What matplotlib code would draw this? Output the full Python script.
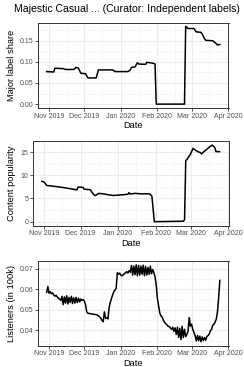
import matplotlib
matplotlib.use("Agg")
import matplotlib.pyplot as plt
import matplotlib.dates as mdates
from matplotlib.ticker import MultipleLocator
import pandas as pd

plt.rcParams['font.family'] = ['Liberation Sans', 'DejaVu Sans']

titulo = 'Majestic Casual ... (Curator: Independent labels)'

# panel 1: major label share
fechas_share = ['2019-10-30', '2019-11-05', '2019-11-06', '2019-11-13', '2019-11-15',
                '2019-11-22', '2019-11-24', '2019-11-26', '2019-11-28', '2019-12-02',
                '2019-12-04', '2019-12-11', '2019-12-13', '2019-12-25', '2019-12-27',
                '2020-01-07', '2020-01-09', '2020-01-10', '2020-01-13', '2020-01-15',
                '2020-01-16', '2020-01-22', '2020-01-23', '2020-01-28', '2020-01-30',
                '2020-01-31', '2020-02-24', '2020-02-25', '2020-02-27', '2020-03-03',
                '2020-03-05', '2020-03-09', '2020-03-10', '2020-03-12', '2020-03-13',
                '2020-03-19', '2020-03-22', '2020-03-23', '2020-03-25']
share = [0.077, 0.076, 0.085, 0.084, 0.082,
         0.082, 0.087, 0.085, 0.073, 0.072,
         0.062, 0.062, 0.081, 0.081, 0.077,
         0.077, 0.081, 0.087, 0.088, 0.098,
         0.095, 0.094, 0.099, 0.097, 0.095,
         0.0, 0.0, 0.184, 0.179, 0.179,
         0.171, 0.170, 0.166, 0.155, 0.151,
         0.150, 0.143, 0.140, 0.141]

# panel 2: content popularity
fechas_pop = ['2019-10-30', '2019-11-01', '2019-11-03', '2019-11-10', '2019-11-18',
              '2019-11-25', '2019-11-28', '2019-11-29', '2019-12-03', '2019-12-04',
              '2019-12-09', '2019-12-11', '2019-12-13', '2019-12-16', '2019-12-20',
              '2019-12-24', '2019-12-28', '2020-01-05', '2020-01-09', '2020-01-10',
              '2020-01-11', '2020-01-15', '2020-01-20', '2020-01-27', '2020-01-29',
              '2020-01-31', '2020-02-24', '2020-02-25', '2020-02-26', '2020-02-27',
              '2020-03-01', '2020-03-03', '2020-03-05', '2020-03-07', '2020-03-09',
              '2020-03-10', '2020-03-12', '2020-03-14', '2020-03-17', '2020-03-19',
              '2020-03-21', '2020-03-22', '2020-03-25']
popularidad = [8.7, 8.5, 7.8, 7.6, 7.3,
               7.0, 6.85, 7.45, 7.4, 7.0,
               6.9, 6.1, 5.6, 6.1, 6.0,
               5.8, 5.65, 5.8, 5.9, 6.25,
               5.95, 6.1, 6.0, 6.0, 5.5,
               0.0, 0.1, 0.4, 13.2, 13.4,
               14.6, 15.8, 15.4, 15.1, 14.9,
               14.6, 15.1, 15.5, 16.2, 16.5,
               16.0, 15.1, 15.1]

# panel 3: listeners (daily, Oct 30 - Mar 25)
inicio_oyentes = '2019-10-30'
oyentes = [0.0584, 0.0613, 0.0580, 0.0588, 0.0578, 0.0582, 0.0572, 0.0566, 0.0570, 0.0562,
           0.0556, 0.0552, 0.0545, 0.0565, 0.0525, 0.0562, 0.0532, 0.0568, 0.0528, 0.0560,
           0.0535, 0.0565, 0.0530, 0.0558, 0.0532, 0.0560, 0.0535, 0.0556, 0.0538, 0.0552,
           0.0545, 0.0550, 0.0542, 0.0525, 0.0490, 0.0483, 0.0482, 0.0481, 0.0480, 0.0479,
           0.0478, 0.0477, 0.0476, 0.0474, 0.0470, 0.0465, 0.0458, 0.0448, 0.0442, 0.0490,
           0.0458, 0.0462, 0.0455, 0.0510, 0.0535, 0.0555, 0.0572, 0.0588, 0.0595, 0.0605,
           0.0680, 0.0672, 0.0678, 0.0668, 0.0665, 0.0670, 0.0675, 0.0680, 0.0685, 0.0678,
           0.0690, 0.0682, 0.0715, 0.0668, 0.0712, 0.0670, 0.0718, 0.0665, 0.0715, 0.0668,
           0.0712, 0.0672, 0.0716, 0.0665, 0.0710, 0.0668, 0.0705, 0.0672, 0.0712, 0.0675,
           0.0695, 0.0680, 0.0660, 0.0620, 0.0555, 0.0520, 0.0485, 0.0470, 0.0465, 0.0450,
           0.0440, 0.0432, 0.0428, 0.0420, 0.0418, 0.0412, 0.0405, 0.0415, 0.0395, 0.0412,
           0.0380, 0.0415, 0.0365, 0.0410, 0.0355, 0.0420, 0.0365, 0.0405, 0.0370, 0.0380,
           0.0395, 0.0462, 0.0420, 0.0430, 0.0405, 0.0390, 0.0375, 0.0348, 0.0375, 0.0350,
           0.0372, 0.0345, 0.0368, 0.0350, 0.0365, 0.0352, 0.0370, 0.0375, 0.0382, 0.0398,
           0.0405, 0.0425, 0.0430, 0.0440, 0.0455, 0.0490, 0.0560, 0.0642]

etiquetas_y = ['Major label share', 'Content popularity', 'Listeners (in 100k)']
pasos_y = [0.05, 5, 0.01]
formatos_y = ['%.2f', '%d', '%.2f']

W, H = 244, 367
fig = plt.figure(figsize=(W / 100, H / 100), dpi=100)

# panel boxes in pixels: left, right, top, bottom
cajas = [(38, 228.5, 22.5, 108), (33, 228.5, 141.3, 225.5), (38, 228.5, 261, 345.5)]

series = [
    (pd.to_datetime(fechas_share), share),
    (pd.to_datetime(fechas_pop), popularidad),
    (pd.date_range(inicio_oyentes, periods=len(oyentes), freq='D'), oyentes),
]

for i, (x, y) in enumerate(series):
    l, r, t, b = cajas[i]
    ax = fig.add_axes([l / W, 1 - b / H, (r - l) / W, (b - t) / H])
    ax.plot(x, y, color='black', lw=1.1, solid_joinstyle='round')
    ax.margins(x=0.05, y=0.05)

    ax.xaxis.set_major_locator(mdates.MonthLocator())
    ax.xaxis.set_minor_locator(mdates.MonthLocator(bymonthday=16))
    ax.xaxis.set_major_formatter(mdates.DateFormatter('%b %Y'))
    ax.yaxis.set_major_locator(MultipleLocator(pasos_y[i]))
    ax.yaxis.set_minor_locator(MultipleLocator(pasos_y[i] / 2))
    ax.yaxis.set_major_formatter(plt.FormatStrFormatter(formatos_y[i]))

    ax.grid(which='major', color='#EBEBEB', lw=0.8)
    ax.grid(which='minor', color='#F2F2F2', lw=0.45)
    ax.set_axisbelow(True)
    for s in ax.spines.values():
        s.set_color('#333333')
        s.set_linewidth(0.7)
    ax.tick_params(which='major', length=2, width=0.6, color='#333333',
                   labelsize=5.0, labelcolor='#4D4D4D', pad=1.5)
    ax.tick_params(which='minor', length=0)

    ax.set_xlabel('Date', fontsize=6.7, va='center')
    ax.xaxis.set_label_coords(0.5, -18 / (b - t))
    ax.set_ylabel(etiquetas_y[i], fontsize=6.7, va='center')
    ax.yaxis.set_label_coords((11.7 - l) / (r - l), 0.5)

fig.text(126.8 / W, 1 - 9 / H, titulo, ha='center', va='center', fontsize=7.6)

fig.savefig('out.png', dpi=100)
